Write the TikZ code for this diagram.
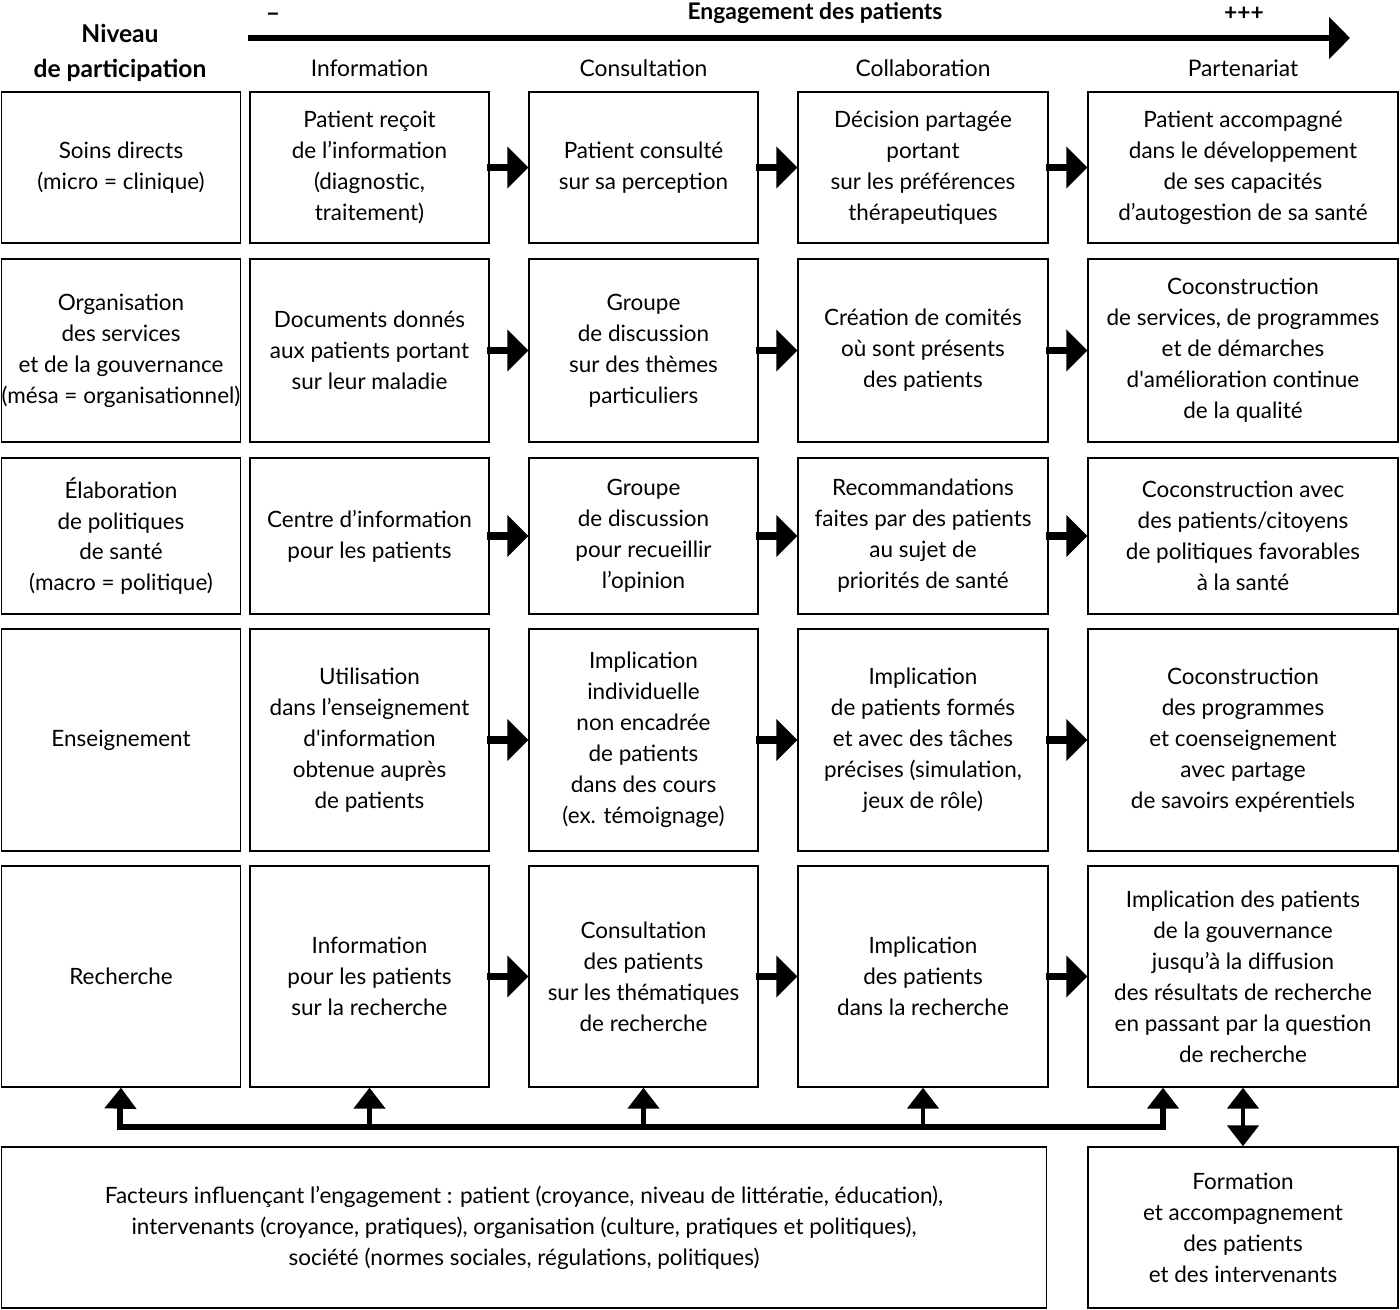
\documentclass[tikz,border=0pt]{standalone}
\usepackage{fontspec}
\setmainfont{Lato}
\usetikzlibrary{arrows.meta}

\begin{document}
\begin{tikzpicture}[
  x=0.02cm, y=-0.02cm,
  cell/.style={rectangle, draw=black, line width=0.8pt, inner sep=0pt, align=center,
               font=\fontsize{12.8pt}{17.6pt}\selectfont},
  header/.style={font=\fontsize{13pt}{17.6pt}\selectfont},
  bold/.style={font=\fontsize{14pt}{17pt}\selectfont\bfseries, align=center},
  rowarrow/.style={-{Triangle[length=0.42cm, width=0.82cm]}, line width=4.4pt, shorten <=-0.05cm},
  uparrow/.style={-{Triangle[length=0.42cm, width=0.62cm]}, line width=2.8pt},
  bus/.style={line width=3.4pt}
]
\useasboundingbox (0,0) rectangle (1400,1310);

% ---- Top: engagement axis ----
\node[bold, font=\fontsize{14pt}{17pt}\selectfont\bfseries] (niveau) at (120,53) {Niveau\\[0.11cm]de participation};
\coordinate (axe_start) at (248,38);
\coordinate (axe_end) at (1350,38);
\draw[-{Triangle[length=0.42cm, width=0.82cm]}, line width=3.2pt] (axe_start) -- (axe_end);
\node[bold, font=\fontsize{13pt}{17pt}\selectfont\bfseries] (engag) at (815,13) {Engagement des patients};
\node[bold] (moins) at (273,17) {–};
\node[bold, font=\fontsize{13pt}{17pt}\selectfont\bfseries] (plus) at (1244,14) {+++};

\node[header] (h_info) at (369.5,68) {Information};
\node[header] (h_cons) at (643.5,68) {Consultation};
\node[header] (h_coll) at (923,68)   {Collaboration};
\node[header] (h_part) at (1243,68)  {Partenariat};

% ---- Row 1: soins directs ----
\node[cell, minimum width=4.78cm, minimum height=3.02cm] (soins_niv)  at (121,167.5)  {Soins directs\\(micro = clinique)};
\node[cell, minimum width=4.78cm, minimum height=3.02cm] (soins_info) at (369.5,167.5) {Patient reçoit\\de l’information\\(diagnostic,\\traitement)};
\node[cell, minimum width=4.58cm, minimum height=3.02cm] (soins_cons) at (643.5,167.5) {Patient consulté\\sur sa perception};
\node[cell, minimum width=5.0cm,  minimum height=3.02cm] (soins_coll) at (923,167.5)   {Décision partagée\\portant\\sur les préférences\\thérapeutiques};
\node[cell, minimum width=6.2cm,  minimum height=3.02cm] (soins_part) at (1243,167.5)  {Patient accompagné\\dans le développement\\de ses capacités\\d’autogestion de sa santé};

\draw[rowarrow] (soins_info) -- (soins_cons);
\draw[rowarrow] (soins_cons) -- (soins_coll);
\draw[rowarrow] (soins_coll) -- (soins_part);

% ---- Row 2: organisation ----
\node[cell, minimum width=4.78cm, minimum height=3.66cm] (orga_niv)  at (121,350.5)  {Organisation\\des services\\et de la gouvernance\\(mésa = organisationnel)};
\node[cell, minimum width=4.78cm, minimum height=3.66cm] (orga_info) at (369.5,350.5) {Documents donnés\\aux patients portant\\sur leur maladie};
\node[cell, minimum width=4.58cm, minimum height=3.66cm] (orga_cons) at (643.5,350.5) {Groupe\\de discussion\\sur des thèmes\\particuliers};
\node[cell, minimum width=5.0cm,  minimum height=3.66cm] (orga_coll) at (923,350.5)   {Création de comités\\où sont présents\\des patients};
\node[cell, minimum width=6.2cm,  minimum height=3.66cm] (orga_part) at (1243,350.5)  {Coconstruction\\de services, de programmes\\et de démarches\\d\textquotesingle amélioration continue\\de la qualité};

\draw[rowarrow] (orga_info) -- (orga_cons);
\draw[rowarrow] (orga_cons) -- (orga_coll);
\draw[rowarrow] (orga_coll) -- (orga_part);

% ---- Row 3: politiques ----
\node[cell, minimum width=4.78cm, minimum height=3.12cm] (pol_niv)  at (121,536)  {Élaboration\\de politiques\\de santé\\(macro = politique)};
\node[cell, minimum width=4.78cm, minimum height=3.12cm] (pol_info) at (369.5,536) {Centre d’information\\pour les patients};
\node[cell, minimum width=4.58cm, minimum height=3.12cm] (pol_cons) at (643.5,536) {Groupe\\de discussion\\pour recueillir\\l’opinion};
\node[cell, minimum width=5.0cm,  minimum height=3.12cm] (pol_coll) at (923,536)   {Recommandations\\faites par des patients\\au sujet de\\priorités de santé};
\node[cell, minimum width=6.2cm,  minimum height=3.12cm] (pol_part) at (1243,536)  {Coconstruction avec\\des patients/citoyens\\de politiques favorables\\à la santé};

\draw[rowarrow] (pol_info) -- (pol_cons);
\draw[rowarrow] (pol_cons) -- (pol_coll);
\draw[rowarrow] (pol_coll) -- (pol_part);

% ---- Row 4: enseignement ----
\node[cell, minimum width=4.78cm, minimum height=4.44cm] (ens_niv)  at (121,740)  {Enseignement};
\node[cell, minimum width=4.78cm, minimum height=4.44cm] (ens_info) at (369.5,740) {Utilisation\\dans l’enseignement\\d\textquotesingle information\\obtenue auprès\\de patients};
\node[cell, minimum width=4.58cm, minimum height=4.44cm] (ens_cons) at (643.5,740) {Implication\\individuelle\\non encadrée\\de patients\\dans des cours\\(ex. témoignage)};
\node[cell, minimum width=5.0cm,  minimum height=4.44cm] (ens_coll) at (923,740)   {Implication\\de patients formés\\et avec des tâches\\précises (simulation,\\jeux de rôle)};
\node[cell, minimum width=6.2cm,  minimum height=4.44cm] (ens_part) at (1243,740)  {Coconstruction\\des programmes\\et coenseignement\\avec partage\\de savoirs expérentiels};

\draw[rowarrow] (ens_info) -- (ens_cons);
\draw[rowarrow] (ens_cons) -- (ens_coll);
\draw[rowarrow] (ens_coll) -- (ens_part);

% ---- Row 5: recherche ----
\node[cell, minimum width=4.78cm, minimum height=4.42cm] (rech_niv)  at (121,976.5)  {Recherche};
\node[cell, minimum width=4.78cm, minimum height=4.42cm] (rech_info) at (369.5,976.5) {Information\\pour les patients\\sur la recherche};
\node[cell, minimum width=4.58cm, minimum height=4.42cm] (rech_cons) at (643.5,976.5) {Consultation\\des patients\\sur les thématiques\\de recherche};
\node[cell, minimum width=5.0cm,  minimum height=4.42cm] (rech_coll) at (923,976.5)   {Implication\\des patients\\dans la recherche};
\node[cell, minimum width=6.2cm,  minimum height=4.42cm] (rech_part) at (1243,976.5)  {Implication des patients\\de la gouvernance\\jusqu’à la diffusion\\des résultats de recherche\\en passant par la question\\de recherche};

\draw[rowarrow] (rech_info) -- (rech_cons);
\draw[rowarrow] (rech_cons) -- (rech_coll);
\draw[rowarrow] (rech_coll) -- (rech_part);

% ---- Bottom: factors and training ----
\node[cell, minimum width=20.9cm, minimum height=3.22cm] (facteurs) at (524,1227.5)
  {Facteurs influençant l’engagement : patient (croyance, niveau de littératie, éducation),\\
   intervenants (croyance, pratiques), organisation (culture, pratiques et politiques),\\
   société (normes sociales, régulations, politiques)};
\node[cell, minimum width=6.2cm, minimum height=3.22cm] (formation) at (1243,1227.5)
  {Formation\\et accompagnement\\des patients\\et des intervenants};

% bus of the factors
\coordinate (bus_l) at (120,1127);
\coordinate (bus_r) at (1163,1127);
\draw[bus, line join=miter] (bus_l |- rech_niv.south) ++(0,20) -- (bus_l) -- (bus_r) -- ++(0,-20);
\draw[uparrow] (bus_l) -- (rech_niv.south);
\draw[uparrow] (bus_l -| rech_info) -- (rech_info.south);
\draw[uparrow] (bus_l -| rech_cons) -- (rech_cons.south);
\draw[uparrow] (bus_l -| rech_coll) -- (rech_coll.south);
\draw[uparrow] (bus_r) -- (bus_r |- rech_part.south);

\draw[{Triangle[length=0.42cm, width=0.62cm]}-{Triangle[length=0.42cm, width=0.62cm]}, line width=2.8pt]
  (rech_part.south) -- (formation.north);

\end{tikzpicture}
\end{document}
